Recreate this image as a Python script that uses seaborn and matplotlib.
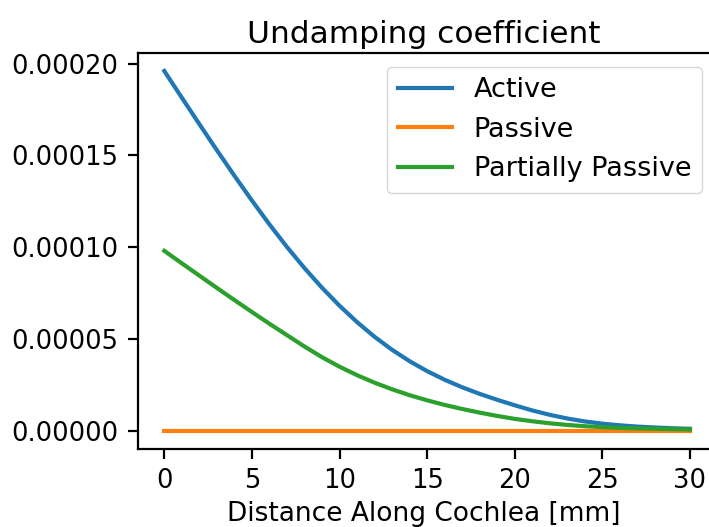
import numpy as np
import pandas as pd
import matplotlib
matplotlib.use("Agg")
import matplotlib.pyplot as plt
import seaborn as sns

distance_mm = list(range(0, 31))
active = [19.6, 18.15, 16.71, 15.29, 13.9, 12.55, 11.25, 10.02, 8.87, 7.8,
          6.82, 5.93, 5.13, 4.42, 3.8, 3.26, 2.79, 2.38, 2.02, 1.7,
          1.4, 1.12, 0.88, 0.68, 0.52, 0.4, 0.31, 0.24, 0.19, 0.15, 0.12]
passive = [0.0] * 31
partially_passive = [9.81, 9.13, 8.46, 7.79, 7.13, 6.48, 5.84, 5.22, 4.6, 4.02,
                     3.5, 3.04, 2.63, 2.27, 1.95, 1.67, 1.42, 1.2, 1.0, 0.82,
                     0.66, 0.53, 0.42, 0.33, 0.26, 0.21, 0.17, 0.14, 0.12, 0.1, 0.08]
series_names = ["Active", "Passive", "Partially Passive"]
scale = 1e-5

frames = []
for name, vals in zip(series_names, [active, passive, partially_passive]):
    frames.append(pd.DataFrame({"x": distance_mm,
                                "y": np.array(vals) * scale,
                                "series": name}))
df = pd.concat(frames, ignore_index=True)

fig = plt.figure(figsize=(7.09, 5.27), dpi=100)
# axes runs to the right edge of the canvas; its right spine is cut off in the reference
ax = fig.add_axes([138 / 709, 1 - 449 / 527, (709 - 138) / 709, (449 - 53) / 527])
palette = ["#1f77b4", "#ff7f0e", "#2ca02c"]
sns.lineplot(data=df, x="x", y="y", hue="series", hue_order=series_names,
             palette=palette, linewidth=3.0, ax=ax)

fs = 18.5
px_per_unit = (690 - 165.2) / 30
ax.set_xlim(-1.5, 30 + (709 - 690) / px_per_unit)
ax.set_ylim(-0.0000098, 0.0002058)
ax.spines["right"].set_visible(False)
ax.set_title("Undamping coefficient", fontsize=22.5, pad=7)
ax.set_xlabel("Distance Along Cochlea [mm]", fontsize=19, labelpad=5)
ax.set_ylabel("")
ax.set_xticks([0, 5, 10, 15, 20, 25, 30])
ax.set_yticks([0, 0.00005, 0.0001, 0.00015, 0.0002])
ax.set_yticklabels(["0.00000", "0.00005", "0.00010", "0.00015", "0.00020"])
ax.tick_params(labelsize=fs, length=7, width=1.6, pad=7)
for s in ax.spines.values():
    s.set_linewidth(1.6)
leg = ax.legend(loc="upper right", fontsize=19.5, title=None,
                bbox_to_anchor=(1 + 6.5 / (709 - 138), 1.0))
fig.savefig("out.png", dpi=100)
